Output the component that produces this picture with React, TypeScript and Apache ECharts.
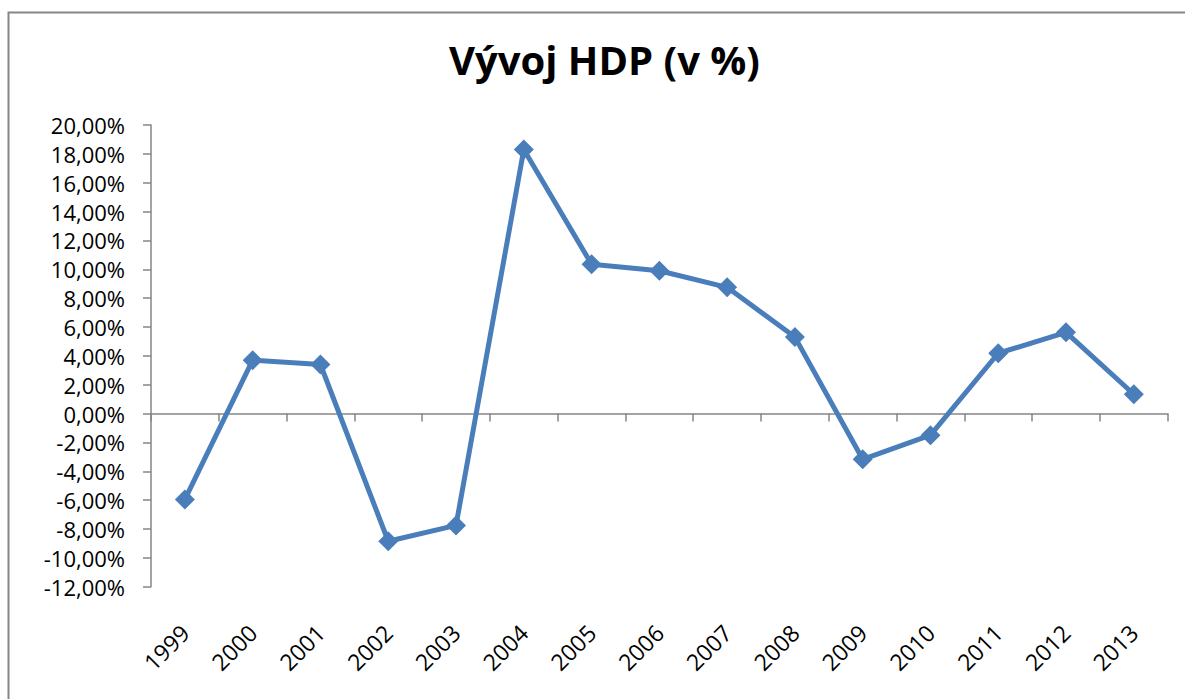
import React, { useEffect, useRef } from "react";
import * as echarts from "echarts";

const years = ["1999","2000","2001","2002","2003","2004","2005","2006","2007","2008","2009","2010","2011","2012","2013"];
const hdp = [-5.95, 3.7, 3.4, -8.85, -7.75, 18.3, 10.35, 9.9, 8.75, 5.3, -3.17, -1.5, 4.18, 5.63, 1.34];
const titleText = "Vývoj HDP (v %)";
const yMin = -12;
const yMax = 20;
const yStep = 2;

export default function App() {
  const ref = useRef<HTMLDivElement>(null);
  useEffect(() => {
    const chart = echarts.init(ref.current!, null, { renderer: "svg" });
    const font = "Open Sans";
    chart.setOption({
      animation: false,
      backgroundColor: "#ffffff",
      title: {
        text: titleText,
        left: 444,
        top: 34,
        textStyle: { fontFamily: font, fontWeight: "bold", fontSize: 40, color: "#000" },
      },
      graphic: [
        {
          type: "polyline",
          shape: { points: [[8.5, 699], [8.5, 12.5], [1185, 12.5]] },
          style: { stroke: "#868686", lineWidth: 2, fill: "none" },
        },
      ],
      grid: { left: 151, right: 17.3, top: 125, bottom: 112.3 },
      xAxis: [
        {
          type: "category",
          data: years,
          position: "bottom",
          axisLine: { onZero: true, lineStyle: { color: "#868686", width: 1.5 } },
          axisTick: { show: true, length: 8, lineStyle: { color: "#868686", width: 1.5 } },
          axisLabel: { show: false },
        },
        {
          type: "category",
          data: years,
          position: "bottom",
          axisLine: { show: false, onZero: false },
          axisTick: { show: false },
          axisLabel: {
            rotate: 45,
            margin: 42,
            fontFamily: font,
            fontSize: 23,
            color: "#000",
          },
        },
      ],
      yAxis: {
        type: "value",
        min: yMin,
        max: yMax,
        interval: yStep,
        axisLine: { show: true, lineStyle: { color: "#868686", width: 1.5 } },
        axisTick: { show: true, length: 8, lineStyle: { color: "#868686", width: 1.5 } },
        splitLine: { show: false },
        axisLabel: {
          margin: 26,
          fontFamily: font,
          fontSize: 22,
          color: "#000",
          formatter: (v: number) => v.toFixed(2).replace(".", ",") + "%",
        },
      },
      series: [
        {
          type: "line",
          data: hdp,
          xAxisIndex: 0,
          symbol: "diamond",
          symbolSize: 20,
          lineStyle: { color: "#4A7EBB", width: 5 },
          itemStyle: { color: "#4A7EBB" },
        },
      ],
    });
    return () => chart.dispose();
  }, []);
  return <div ref={ref} style={{ width: 1185, height: 699, position: "absolute", left: 0, top: 0 }} />;
}
